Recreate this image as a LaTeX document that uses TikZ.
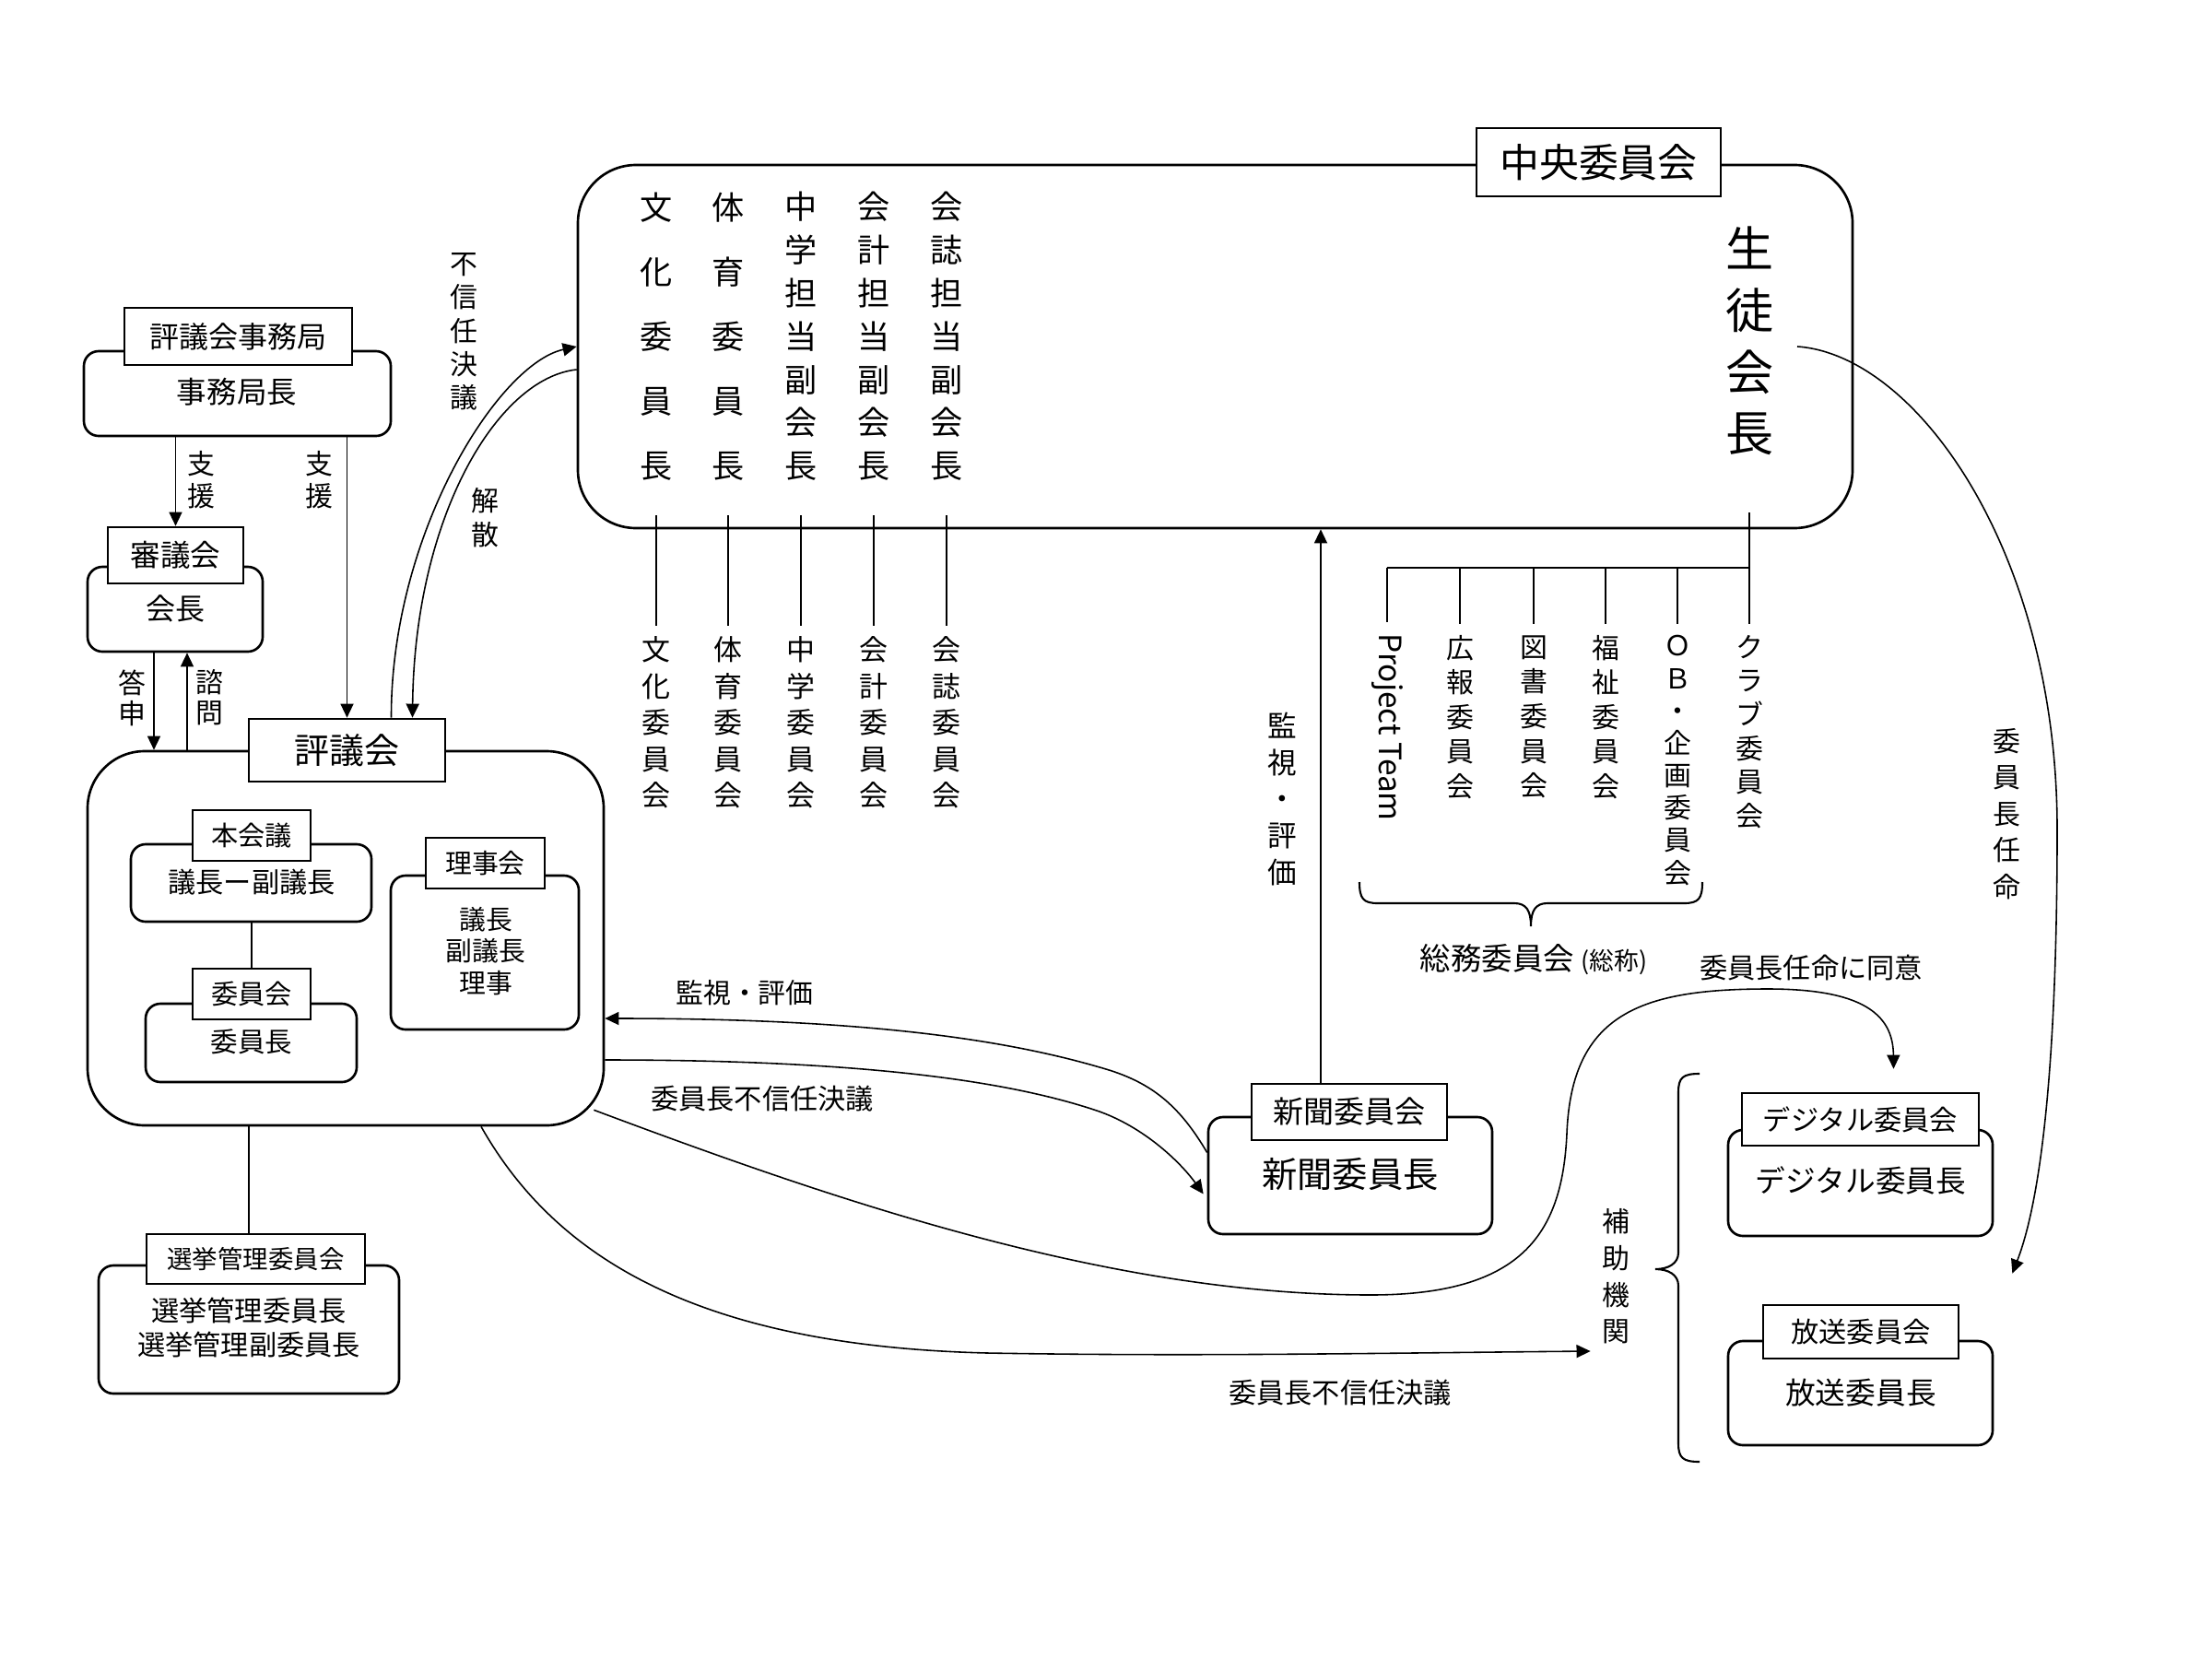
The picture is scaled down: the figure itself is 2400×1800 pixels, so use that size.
\documentclass[tikz,border=0pt]{standalone}
\usepackage{fontspec}
\setmainfont{Noto Sans CJK JP}
\usetikzlibrary{arrows.meta,fit,calc}
\newcommand\fsz[2]{\fontsize{#1pt}{#2pt}\selectfont}
\begin{document}
\begin{tikzpicture}[x=0.01cm,y=-0.01cm,
  rbox/.style={draw,line width=0.75pt,rounded corners=0.16cm,inner sep=0pt},
  bigbox/.style={rbox,rounded corners=0.63cm},
  tabbox/.style={draw,fill=white,line width=0.75pt,inner sep=0pt},
  conn/.style={line width=0.45pt},
  arr/.style={conn,-{Triangle[length=4.3pt,width=4pt]}},
  stem/.style={line width=0.7pt},
  vtext/.style={align=center},
]
\fill[white] (0,0) rectangle (2400,1800);
\useasboundingbox (0,0) rectangle (2400,1800);

% ---------- 評議会事務局 ----------
\node[rbox,fit={(91,381) (424,473)}] (jimu) {};
\node[tabbox,fit={(135,334) (382,396)}] (jimuL) {};
\node[font=\fsz{9.1}{11}] (jimuLT) at (jimuL) {評議会事務局};
\node[font=\fsz{9.25}{11}] (jimuT) at (257,425) {事務局長};

% ---------- 審議会 ----------
\node[rbox,fit={(95,615) (285,707)}] (shingi) {};
\node[tabbox,fit={(117,572) (264,633)}] (shingiL) {};
\node[font=\fsz{9.25}{11}] (shingiLT) at (shingiL) {審議会};
\node[font=\fsz{9.1}{11}] (shingiT) at (190,660) {会長};

% ---------- 評議会 ----------
\node[bigbox,rounded corners=0.62cm,fit={(95,815) (655,1221)}] (hyogi) {};
\node[tabbox,fit={(270,780) (483,848)}] (hyogiL) {};
\node[font=\fsz{10.8}{13}] (hyogiLT) at (hyogiL) {評議会};

\node[rbox,fit={(142,916) (403,1000)}] (honkai) {};
\node[tabbox,fit={(209,879) (337,934)}] (honkaiL) {};
\node[font=\fsz{8.3}{10}] (honkaiLT) at (honkaiL) {本会議};
\node[font=\fsz{8.6}{10}] (honkaiT) at (273,957) {議長ー副議長};

\node[rbox,fit={(158,1089) (387,1174)}] (iin) {};
\node[tabbox,fit={(209,1051) (337,1106)}] (iinL) {};
\node[font=\fsz{8.3}{10}] (iinLT) at (iinL) {委員会};
\node[font=\fsz{8.4}{10}] (iinT) at (273,1130) {委員長};
\draw[conn] (honkai.south -| honkaiL) -- (iinL.north);

\node[rbox,fit={(424,950) (628,1117)}] (riji) {};
\node[tabbox,fit={(462,909) (591,964)}] (rijiL) {};
\node[font=\fsz{8.2}{10}] (rijiLT) at (rijiL) {理事会};
\node[vtext,font=\fsz{8.2}{9.7}] (rijiT) at (527,1032) {議長\\副議長\\理事};

% ---------- 選挙管理委員会 ----------
\node[rbox,fit={(107,1373) (433,1512)}] (senkyo) {};
\node[tabbox,fit={(159,1339) (396,1393)}] (senkyoL) {};
\node[font=\fsz{7.8}{9}] (senkyoLT) at (senkyoL) {選挙管理委員会};
\node[vtext,font=\fsz{8.6}{10.5}] (senkyoT) at (270,1440) {選挙管理委員長\\選挙管理副委員長};
\draw[stem] (hyogi.south -| senkyo) -- (senkyo |- senkyoL.north);

% ---------- 支援・答申・諮問 ----------
\draw[arr] (shingiL.north |- jimu.south) -- (shingiL.north);
\draw[arr] (hyogiL.north |- jimu.south) -- (hyogiL.north);
\coordinate (toX) at (167,0);
\coordinate (shiX) at (203,0);
\draw[arr] (toX |- shingi.south) -- (toX |- hyogi.north);
\draw[arr] (shiX |- hyogi.north) -- (shiX |- shingi.south);
\node[vtext,font=\fsz{8.5}{10}] (shienA) at (218,521) {支\\援};
\node[vtext,font=\fsz{8.5}{10}] (shienB) at (346,521) {支\\援};
\node[vtext,font=\fsz{8.5}{9.4}] (toshinV) at (143,757) {答\\申};
\node[vtext,font=\fsz{8.5}{9.4}] (shimonV) at (227,757) {諮\\問};

% ---------- 中央委員会 ----------
\node[bigbox,fit={(627,179) (2010,573)}] (central) {};
\node[tabbox,fit={(1602,139) (1867,213)}] (centralL) {};
\node[font=\fsz{12.2}{14}] (centralLT) at (centralL) {中央委員会};
\node[vtext,font=\fsz{10}{19.9}] (bunkaC) at (712,365) {文\\化\\委\\員\\長};
\node[vtext,font=\fsz{10}{19.9}] (taiikuC) at (790,365) {体\\育\\委\\員\\長};
\node[vtext,font=\fsz{10}{13.3}] (chugakuC) at (869,365) {中\\学\\担\\当\\副\\会\\長};
\node[vtext,font=\fsz{10}{13.3}] (kaikeiC) at (948,365) {会\\計\\担\\当\\副\\会\\長};
\node[vtext,font=\fsz{10}{13.3}] (kaishiC) at (1027,365) {会\\誌\\担\\当\\副\\会\\長};
\node[vtext,font=\fsz{14.8}{19}] (seito) at (1898,370) {生\\徒\\会\\長};

% committees under the vice presidents
\node[vtext,font=\fsz{8.8}{11.2}] (bunkaL) at (712,784) {文\\化\\委\\員\\会};
\node[vtext,font=\fsz{8.8}{11.2}] (taiikuL) at (790,784) {体\\育\\委\\員\\会};
\node[vtext,font=\fsz{8.8}{11.2}] (chugakuL) at (869,784) {中\\学\\委\\員\\会};
\node[vtext,font=\fsz{8.8}{11.2}] (kaikeiL) at (948,784) {会\\計\\委\\員\\会};
\node[vtext,font=\fsz{8.8}{11.2}] (kaishiL) at (1027,784) {会\\誌\\委\\員\\会};
\foreach \n in {bunkaL,taiikuL,chugakuL,kaikeiL,kaishiL}
  \draw[stem] ($(central.south -| \n)+(0,-15)$) -- (\n.north);

% committees under the president
\coordinate (bus) at (1898,616);
\node[rotate=-90,font=\fsz{9.5}{11}] (ptL) at (1505,789) {Project Team};
\node[vtext,font=\fsz{8.5}{10.7}] (kohoL) at (1584,778) {広\\報\\委\\員\\会};
\node[vtext,font=\fsz{8.5}{10.7}] (toshoL) at (1664,778) {図\\書\\委\\員\\会};
\node[vtext,font=\fsz{8.5}{10.7}] (fukushiL) at (1742,778) {福\\祉\\委\\員\\会};
\node[vtext,font=\fsz{8.5}{10}] (obL) at (1820,825) {Ｏ\\Ｂ\\・\\企\\画\\委\\員\\会};
\node[vtext,font=\fsz{8.5}{10.4}] (clubL) at (1898,794) {ク\\ラ\\ブ\\委\\員\\会};
\draw[stem] ($(central.south -| seito)+(0,-18)$) -- (clubL.north);
\draw[stem] (ptL |- bus) -- (bus);
\draw[stem] (ptL |- bus) -- (ptL.west);
\foreach \n in {kohoL,toshoL,fukushiL,obL} \draw[stem] (\n |- bus) -- (\n.north);

% brace: 総務委員会
\draw[line width=0.6pt] (1475,957) .. controls (1475,975) and (1479,980) .. (1495,980) -- (1643,980) .. controls (1656,980) and (1661,988) .. (1661,1005) .. controls (1661,988) and (1666,980) .. (1679,980) -- (1827,980) .. controls (1843,980) and (1847,975) .. (1847,957);
\node[font=\fsz{9.5}{11}] (somu) at (1664,1041) {総務委員会 {\fsz{7.6}{9}(総称)}};

% ---------- 新聞委員会 ----------
\node[rbox,fit={(1311,1212) (1619,1339)}] (shinbun) {};
\node[tabbox,fit={(1358,1176) (1570,1237)}] (shinbunL) {};
\node[font=\fsz{9.4}{11}] (shinbunLT) at (shinbunL) {新聞委員会};
\node[font=\fsz{10.9}{13}] (shinbunT) at (1465,1274) {新聞委員長};
\coordinate (kx) at (1433,0);
\draw[arr] (kx |- shinbunL.north) -- (kx |- central.south);
\node[vtext,font=\fsz{9}{11.3}] (kanshiV) at (1391,867) {監\\視\\・\\評\\価};

% ---------- 補助機関 ----------
\node[rbox,fit={(1875,1226) (2162,1341)}] (digi) {};
\node[tabbox,fit={(1890,1186) (2147,1243)}] (digiL) {};
\node[font=\fsz{8.6}{10}] (digiLT) at (digiL) {デジタル委員会};
\node[font=\fsz{9.3}{11}] (digiT) at (2019,1281) {デジタル委員長};
\node[rbox,fit={(1875,1455) (2162,1568)}] (hoso) {};
\node[tabbox,fit={(1913,1416) (2125,1474)}] (hosoL) {};
\node[font=\fsz{8.6}{10}] (hosoLT) at (hosoL) {放送委員会};
\node[font=\fsz{9.3}{11}] (hosoT) at (2019,1511) {放送委員長};

\draw[line width=0.6pt] (1844,1165) .. controls (1826,1165) and (1821,1169) .. (1821,1185) -- (1821,1359) .. controls (1821,1371) and (1810,1377) .. (1796,1377) .. controls (1810,1377) and (1821,1383) .. (1821,1395) -- (1821,1566) .. controls (1821,1582) and (1826,1586) .. (1844,1586);
\node[vtext,font=\fsz{8.5}{11.3}] (hojo) at (1753,1385) {補\\助\\機\\関};

% ---------- connectors ----------
% 不信任決議 / 解散
\draw[arr] ($(hyogiL.north)+(48,0)$) .. controls (424,580) and (540,395) .. (central.west);
\draw[arr] ($(central.west)+(0,25)$) .. controls (540,410) and (450,560) .. ($(hyogiL.north)+(71,0)$);
\node[vtext,font=\fsz{8.5}{10.3}] (fushinV) at (503,360) {不\\信\\任\\決\\議};
\node[vtext,font=\fsz{8.5}{10.5}] (kaisanV) at (526,562) {解\\散};

% 監視・評価 and 委員長不信任決議 between 評議会 and 新聞委員会
\draw[arr] ($(shinbun.west)+(0,-25)$) .. controls (1280,1200) and (1250,1175) .. (1200,1160) .. controls (1100,1130) and (950,1105) .. ($(hyogi.east)+(0,87)$);
\draw[arr] ($(hyogi.east)+(0,132)$) .. controls (950,1150) and (1100,1175) .. (1190,1205) .. controls (1240,1222) and (1280,1260) .. ($(shinbun.west)+(-4,20)$);
\node[font=\fsz{8.5}{10}] (kanshiH) at (808,1077) {監視・評価};
\node[font=\fsz{8.6}{10}] (fushinH) at (827,1192) {委員長不信任決議};

% 委員長任命に同意
\draw[arr] ($(hyogi.south east)+(-12,-18)$) .. controls (900,1300) and (1200,1405) .. (1487,1405) .. controls (1650,1405) and (1695,1340) .. (1700,1230) .. controls (1705,1100) and (1780,1073) .. (1918,1073) .. controls (2020,1073) and (2054,1100) .. ($(digiL.north)+(36,-25)$);
\node[font=\fsz{8.6}{10}] (doiT) at (1965,1050) {委員長任命に同意};

% 委員長不信任決議 to 補助機関
\draw[arr] ($(hyogi.south)+(147,0)$) .. controls (600,1360) and (750,1460) .. (1071,1468) .. controls (1300,1472) and (1500,1468) .. ($(hojo.west)+(0,81)$);
\node[font=\fsz{8.6}{10}] (fushinB) at (1454,1511) {委員長不信任決議};

% 委員長任命
\draw[arr] ($(seito)+(52,6)$) .. controls (2080,385) and (2232,600) .. (2232,900) .. controls (2232,1150) and (2215,1300) .. ($(hosoL.north east)+(57,-33)$);
\node[vtext,font=\fsz{8.5}{11.2}] (ninmeiV) at (2177,883) {委\\員\\長\\任\\命};

\end{tikzpicture}
\end{document}
